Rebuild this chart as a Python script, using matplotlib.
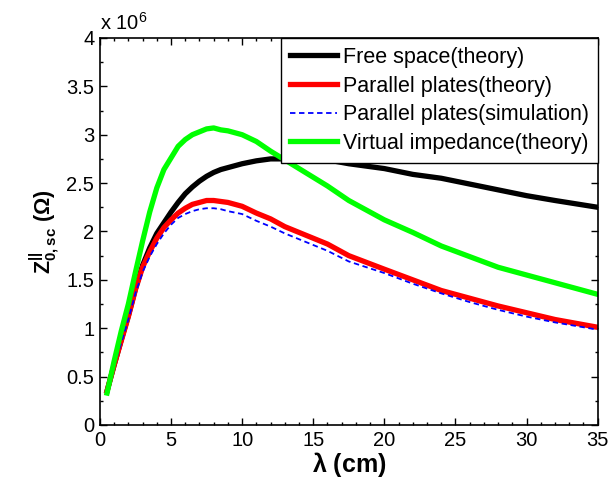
import matplotlib
matplotlib.use('Agg')
import matplotlib.pyplot as plt
from matplotlib.ticker import MultipleLocator, FormatStrFormatter

plt.rcParams['font.family'] = ['Liberation Sans', 'DejaVu Sans']
plt.rcParams['mathtext.fontset'] = 'custom'
plt.rcParams['mathtext.rm'] = 'Liberation Sans'
plt.rcParams['mathtext.bf'] = 'Liberation Sans:bold'

# wavelength (cm) and impedance (x 1e6 Ohm)
lam = [0.5, 1, 1.5, 2, 2.5, 3, 3.5, 4, 4.5, 5, 5.5, 6, 6.5, 7, 7.5, 8, 8.5, 9,
       10, 11, 12, 13, 14, 15, 16, 17.5, 20, 22, 24, 26, 28, 30, 32, 35]

free_space = [0.35, 0.62, 0.88, 1.13, 1.41, 1.65, 1.83, 1.98, 2.09, 2.20, 2.30, 2.39, 2.46,
              2.52, 2.57, 2.61, 2.64, 2.66, 2.70, 2.73, 2.75, 2.75, 2.74, 2.74, 2.74, 2.70,
              2.65, 2.59, 2.55, 2.49, 2.43, 2.37, 2.32, 2.25]
plates_theory = [0.35, 0.62, 0.87, 1.12, 1.40, 1.63, 1.79, 1.93, 2.04, 2.12, 2.19, 2.24, 2.28,
                 2.30, 2.32, 2.32, 2.31, 2.30, 2.26, 2.19, 2.13, 2.05, 1.99, 1.93, 1.87, 1.75,
                 1.61, 1.50, 1.39, 1.31, 1.23, 1.16, 1.09, 1.01]
plates_sim = [0.34, 0.61, 0.85, 1.09, 1.36, 1.58, 1.74, 1.87, 1.98, 2.07, 2.14, 2.18, 2.21,
              2.23, 2.24, 2.24, 2.23, 2.21, 2.18, 2.11, 2.05, 1.98, 1.92, 1.86, 1.80, 1.69,
              1.57, 1.46, 1.36, 1.27, 1.19, 1.12, 1.06, 0.985]
virtual = [0.33, 0.66, 0.97, 1.25, 1.58, 1.90, 2.20, 2.45, 2.64, 2.76, 2.88, 2.95, 3.00,
           3.03, 3.06, 3.07, 3.05, 3.04, 3.00, 2.93, 2.83, 2.74, 2.65, 2.56, 2.47, 2.32,
           2.12, 1.99, 1.85, 1.74, 1.63, 1.55, 1.47, 1.35]

fig = plt.figure(figsize=(6.13, 4.93), dpi=100)
ax = fig.add_axes([0.163, 0.138, 0.812, 0.785])

ax.plot(lam, free_space, color='black', lw=3.8, label='Free space(theory)')
ax.plot(lam, plates_theory, color='#ff0000', lw=3.8, label='Parallel plates(theory)')
ax.plot(lam, plates_sim, color='#0000ff', lw=1.3, ls=(0, (3, 2)), label='Parallel plates(simulation)')
ax.plot(lam, virtual, color='#00ff00', lw=3.8, label='Virtual impedance(theory)')

ax.set_xlim(0, 35)
ax.set_ylim(0, 4)
ax.xaxis.set_major_locator(MultipleLocator(5))
ax.xaxis.set_minor_locator(MultipleLocator(1))
ax.yaxis.set_major_locator(MultipleLocator(0.5))
ax.yaxis.set_minor_locator(MultipleLocator(0.25))
ax.yaxis.set_major_formatter(FormatStrFormatter('%g'))
ax.tick_params(which='both', direction='in', top=True, right=True, labelsize=14.5, width=1)
ax.tick_params(which='major', length=5, pad=4)
ax.tick_params(which='minor', length=2.5)
for sp in ax.spines.values():
    sp.set_linewidth(1.2)

ax.set_xlabel(r'$\mathbf{\lambda}$ (cm)', fontsize=18, fontweight='bold', labelpad=0)
ax.set_ylabel(r'$\mathbf{Z^{||}_{0,sc}}$ ($\mathbf{\Omega}$)', fontsize=15.5, fontweight='bold', labelpad=3)
ax.text(0.0, 1.012, r'x 10$^{6}$', transform=ax.transAxes, fontsize=14.5, ha='left', va='bottom')

leg = ax.legend(loc='upper right', borderaxespad=0, fontsize=15.5, handlelength=2.2,
                handletextpad=0.25, labelspacing=0.35, borderpad=0.42, fancybox=False,
                framealpha=1, edgecolor='black')
leg.get_frame().set_linewidth(1.0)

fig.savefig('out.png', dpi=100)
